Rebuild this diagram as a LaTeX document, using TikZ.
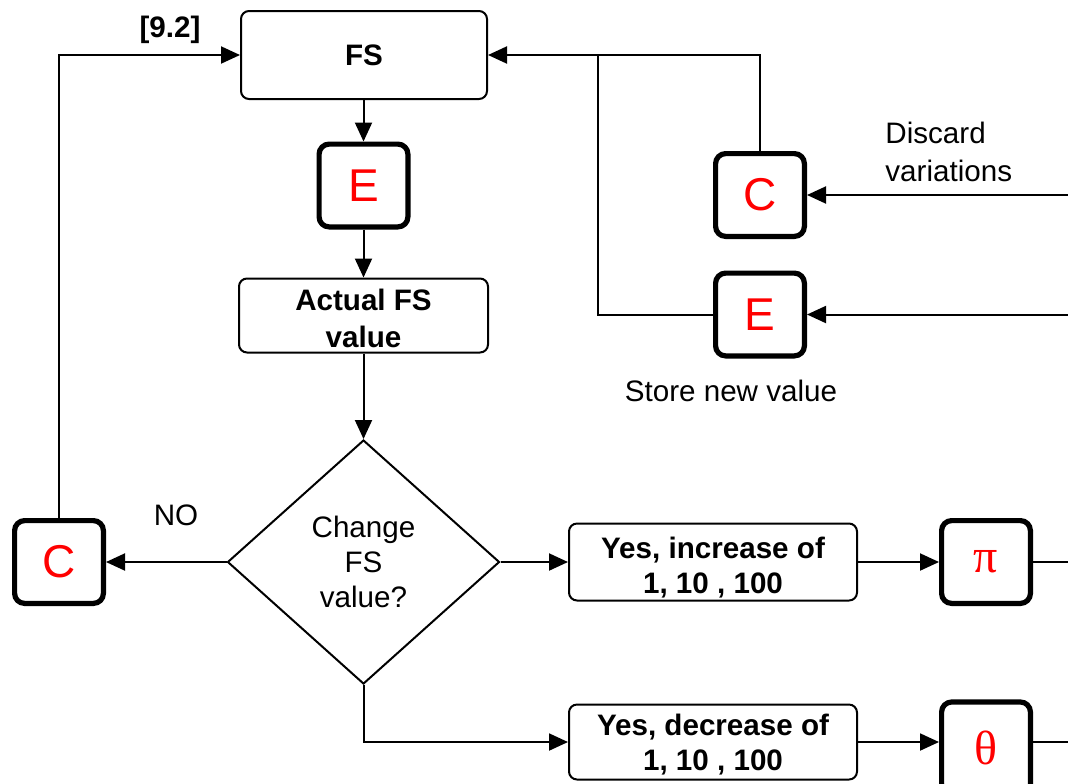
\documentclass[tikz,border=0pt]{standalone}
\usepackage{fontspec}
\setmainfont{Liberation Sans}
\newfontfamily\serifgreek{Liberation Serif}
\usetikzlibrary{shapes.geometric,arrows.meta}
\newcommand{\twoline}[3]{\raisebox{0pt}[\dimexpr\height+#3\relax][\dimexpr\depth-#3\relax]{\begin{tabular}{@{}c@{}}#1\\#2\end{tabular}}}
\begin{document}
\begin{tikzpicture}[x=0.5pt,y=-0.5pt,
 conn/.style={line width=1pt},
 arr/.style={conn,-{Triangle[length=9.5pt,width=8.5pt]}},
 box/.style={draw,line width=1pt,rounded corners=4pt,align=center,font=\fontsize{14.8}{17.5}\selectfont\bfseries,inner sep=0pt},
 key/.style={draw,line width=2.6pt,rounded corners=5pt,minimum width=44.4pt,minimum height=41.4pt,inner sep=0pt,text=red,font=\fontsize{23}{23}\selectfont},
 greek/.style={font=\serifgreek\fontsize{24}{24}\selectfont},
 lbl/.style={font=\fontsize{14.8}{19}\selectfont,inner sep=0pt,align=left}]
\useasboundingbox (0,0) rectangle (1068,783);
% boxes
\node[box,minimum width=123pt,minimum height=44pt] (FS) at (364,55) {FS};
\node[key] (E1) at (363.5,185.5) {E};
\node[box,minimum width=124.5pt,minimum height=36.5pt,font=\fontsize{14.8}{18.5}\selectfont\bfseries] (AV) at (363.5,315.5) {\twoline{Actual FS}{value}{3pt}};
\node[draw,diamond,line width=1pt,minimum width=136pt,minimum height=122pt,inner sep=0pt,align=center,font=\fontsize{14.8}{17.5}\selectfont] (D) at (363.5,562) {Change\\FS\\value?};
\node[key] (Cl) at (59,562) {C};
\node[box,minimum width=144pt,minimum height=38.5pt] (YI) at (713,562) {\twoline{Yes, increase of}{1, 10 , 100}{3.5pt}};
\node[key,greek] (Pi) at (986,562) {π};
\node[box,minimum width=144pt,minimum height=37.5pt] (YD) at (713,742) {\twoline{Yes, decrease of}{1, 10 , 100}{2pt}};
\node[key,greek,minimum height=46pt] (Th) at (986,748) {θ};
\node[key] (Cr) at (760,195) {C};
\node[key] (Er) at (760,314.5) {E};
% labels
\node[lbl,font=\fontsize{14.8}{19}\selectfont\bfseries] (L92) at (170,30) {[9.2]};
\node[lbl] (LNO) at (176,515) {NO};
\node[lbl,anchor=west] (LDV) at (885,152) {Discard\\variations};
\node[lbl] (LSN) at (731,391) {Store new value};
% coordinates
\coordinate (J) at (598,55);
\coordinate (R1) at (1068,195);
\coordinate (R2) at (1068,314.5);
\coordinate (R3) at (1068,562);
\coordinate (R4) at (1068,742);
% connectors
\draw[arr] (FS.south -| E1.north) -- (E1);
\draw[arr] (E1) -- (AV);
\draw[arr] (AV) -- (D);
\draw[arr] (D.west) -- (Cl);
\draw[arr] (Cl.north) |- (FS.west);
\draw[arr] (D.east) -- (YI);
\draw[arr] (YI) -- (Pi);
\draw[conn] (Pi) -- (R3);
\draw[arr] (D.south) |- (YD.west);
\draw[arr] (YD.east) -- (Th.west |- R4);
\draw[conn] (Th.east |- R4) -- (R4);
\draw[arr] (Cr.north) |- (FS.east);
\draw[conn] (Er.west) -| (J);
\draw[arr] (R1) -- (Cr);
\draw[arr] (R2) -- (Er);
\end{tikzpicture}
\end{document}
